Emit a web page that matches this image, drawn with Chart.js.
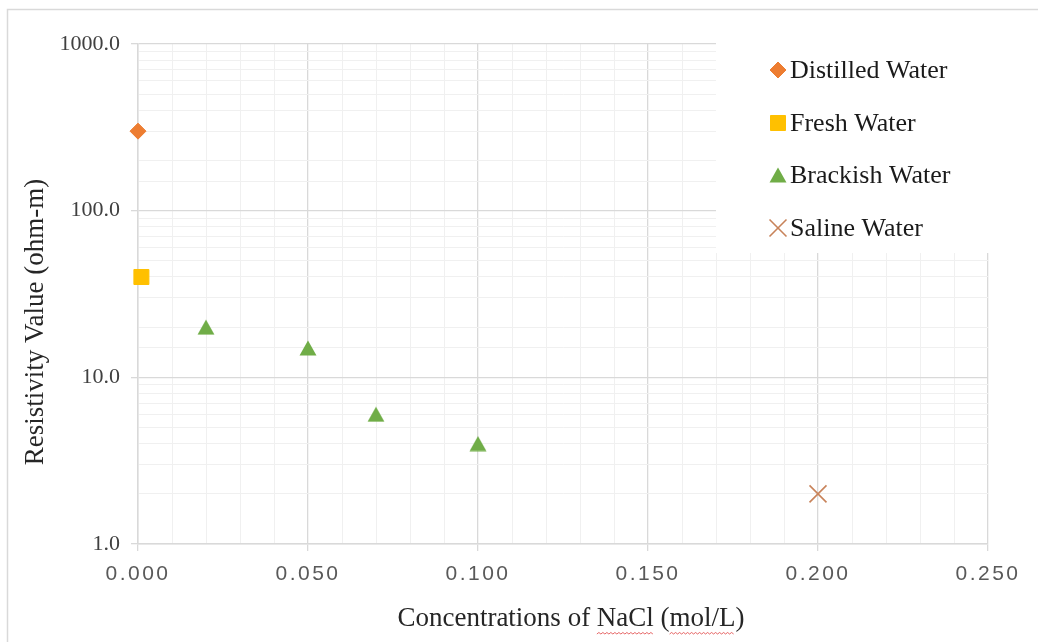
<!DOCTYPE html>
<html>
<head>
<meta charset="utf-8">
<script src="https://cdn.jsdelivr.net/npm/chart.js@4.4.1/dist/chart.umd.min.js"></script>
<style>
  html, body { margin: 0; padding: 0; background: #fff; }
  #wrap { width: 1038px; height: 642px; position: relative; }
</style>
</head>
<body>
<div id="wrap"><canvas id="c" width="1038" height="642"></canvas></div>
<script>
// Resistivity of water samples vs. NaCl concentration
const seriesNames = ['Distilled Water', 'Fresh Water', 'Brackish Water', 'Saline Water'];

const distilledX = [0.000];
const distilledY = [300];

const freshX = [0.001];
const freshY = [40];

const brackishX = [0.020, 0.050, 0.070, 0.100];
const brackishY = [20, 15, 6, 4];

const salineX = [0.200];
const salineY = [2];

const xTickLabels = ['0.000', '0.050', '0.100', '0.150', '0.200', '0.250'];
const yTickLabels = ['1.0', '10.0', '100.0', '1000.0'];

const xAxisTitle = 'Concentrations of NaCl (mol/L)';
const yAxisTitle = 'Resistivity Value (ohm-m)';

const SERIF = '"Liberation Serif", "Times New Roman", serif';
const SANS = '"Liberation Sans", Arial, sans-serif';

const toPoints = (xs, ys) => xs.map((x, i) => ({ x: x, y: ys[i] }));

const isMajorX = v => xTickLabels.includes(Number(v).toFixed(3));
const isMajorY = v => yTickLabels.includes(Number(v).toFixed(1));

// Triangle marker centred on its bounding box
function makeTriangle(w, h, color) {
  const cv = document.createElement('canvas');
  cv.width = w; cv.height = h;
  const g = cv.getContext('2d');
  g.fillStyle = color;
  g.beginPath();
  g.moveTo(w / 2, 0.5);
  g.lineTo(w - 0.5, h - 0.5);
  g.lineTo(0.5, h - 0.5);
  g.closePath();
  g.fill();
  return cv;
}
const triangleMarker = makeTriangle(18, 16, '#70AD47');

const datasets = [
  { label: seriesNames[0], data: toPoints(distilledX, distilledY),
    pointStyle: 'rectRot', radius: 8, backgroundColor: '#ED7D31', borderColor: '#ED7D31', borderWidth: 1 },
  { label: seriesNames[1], data: toPoints(freshX, freshY),
    pointStyle: 'rect', radius: 10.6, backgroundColor: '#FFC000', borderColor: '#FFC000', borderWidth: 1 },
  { label: seriesNames[2], data: toPoints(brackishX, brackishY),
    pointStyle: triangleMarker, radius: 10, backgroundColor: '#70AD47', borderColor: '#70AD47', borderWidth: 1 },
  { label: seriesNames[3], data: toPoints(salineX, salineY),
    pointStyle: 'crossRot', radius: 12, backgroundColor: '#C8835A', borderColor: '#C8835A', borderWidth: 1.6 }
];
datasets.forEach(d => { d.clip = false; });

// Letter-spaced tick labels on the x axis
const spacedXLabels = {
  id: 'spacedXLabels',
  afterLayout(chart) {
    const sc = chart.scales.x;
    if (sc._spaced) return;
    const orig = sc.drawLabels;
    sc.drawLabels = function (area) {
      const ctx = this.ctx;
      ctx.save();
      ctx.letterSpacing = '2.5px';
      orig.call(this, area);
      ctx.restore();
    };
    sc._spaced = true;
  }
};

// Outer frame, axis titles and the overlaid legend box
const decorations = {
  id: 'decorations',
  beforeDraw(chart) {
    const ctx = chart.ctx;
    ctx.save();
    ctx.fillStyle = '#ffffff';
    ctx.fillRect(0, 0, chart.width, chart.height);
    ctx.strokeStyle = '#d9d9d9';
    ctx.lineWidth = 1.5;
    ctx.strokeRect(7.5, 9.5, chart.width + 20, chart.height + 20);
    ctx.restore();
  },
  afterDraw(chart) {
    const ctx = chart.ctx;
    const area = chart.chartArea;
    ctx.save();

    // y-axis title
    ctx.fillStyle = '#262626';
    ctx.font = '27px ' + SERIF;
    ctx.textAlign = 'center';
    ctx.textBaseline = 'middle';
    ctx.save();
    ctx.translate(36, 322);
    ctx.rotate(-Math.PI / 2);
    ctx.fillText(yAxisTitle, 0, 0);
    ctx.restore();

    // x-axis title
    ctx.fillText(xAxisTitle, 571, 619);

    // spell-check style squiggles under "NaCl" and "mol/L"
    const full = ctx.measureText(xAxisTitle).width;
    const left = 571 - full / 2;
    const marks = [['Concentrations of ', 'NaCl'], ['Concentrations of NaCl (', 'mol/L']];
    ctx.strokeStyle = 'rgba(220,40,40,0.7)';
    ctx.lineWidth = 1;
    marks.forEach(([pre, word]) => {
      const x0 = left + ctx.measureText(pre).width;
      const x1 = x0 + ctx.measureText(word).width;
      ctx.beginPath();
      let up = true;
      ctx.moveTo(x0, 634);
      for (let x = x0 + 2; x <= x1; x += 2) {
        ctx.lineTo(x, up ? 632.5 : 634);
        up = !up;
      }
      ctx.stroke();
    });

    // legend panel covering the upper-right gridlines
    const lx = 716, ly = area.top, lw = area.right - 716 + 1, lh = 254 - area.top;
    ctx.fillStyle = '#ffffff';
    ctx.fillRect(lx, ly - 1, lw, lh);

    const rows = [70, 123, 175, 228];
    ctx.font = '26px ' + SERIF;
    ctx.textAlign = 'left';
    ctx.textBaseline = 'middle';
    chart.data.datasets.forEach((ds, i) => {
      const cy = rows[i];
      ctx.fillStyle = ds.backgroundColor;
      ctx.strokeStyle = ds.borderColor;
      ctx.lineWidth = ds.borderWidth;
      Chart.helpers.drawPoint(ctx, {
        pointStyle: ds.pointStyle,
        radius: ds.radius,
        rotation: 0,
        borderWidth: ds.borderWidth
      }, 778, cy);
      ctx.fillStyle = '#1a1a1a';
      ctx.fillText(ds.label, 790, cy + 1);
    });
    ctx.restore();
  }
};

new Chart(document.getElementById('c'), {
  type: 'scatter',
  data: { datasets: datasets },
  plugins: [spacedXLabels, decorations],
  options: {
    responsive: false,
    animation: false,
    devicePixelRatio: 1,
    layout: { padding: { top: 44, right: 50, left: 0, bottom: 0 } },
    plugins: { legend: { display: false }, tooltip: { enabled: false } },
    scales: {
      x: {
        type: 'linear',
        min: 0,
        max: 0.25,
        afterFit(s) { s.height = 98; },
        border: { display: true, color: '#d9d9d9', width: 1.5 },
        grid: {
          color: c => (c.tick && isMajorX(c.tick.value)) ? '#d9d9d9' : '#f0f0f0',
          lineWidth: c => (c.tick && isMajorX(c.tick.value)) ? 1.3 : 1,
          tickColor: c => (c.tick && isMajorX(c.tick.value)) ? '#d9d9d9' : 'rgba(0,0,0,0)',
          tickLength: 7,
          drawTicks: true
        },
        ticks: {
          stepSize: 0.01,
          autoSkip: false,
          maxRotation: 0,
          minRotation: 0,
          padding: 11,
          color: '#595959',
          font: { family: SANS, size: 21 },
          callback: v => {
            const s = Number(v).toFixed(3);
            return xTickLabels.includes(s) ? s : '';
          }
        }
      },
      y: {
        type: 'logarithmic',
        min: 1,
        max: 1000,
        afterFit(s) { s.width = 138; },
        border: { display: true, color: '#d9d9d9', width: 1.5 },
        grid: {
          color: c => (c.tick && isMajorY(c.tick.value)) ? '#d9d9d9' : '#f0f0f0',
          lineWidth: c => (c.tick && isMajorY(c.tick.value)) ? 1.3 : 1,
          tickColor: c => (c.tick && isMajorY(c.tick.value)) ? '#d9d9d9' : 'rgba(0,0,0,0)',
          tickLength: 7,
          drawTicks: true
        },
        ticks: {
          autoSkip: false,
          padding: 11,
          color: '#404040',
          font: { family: SERIF, size: 22 },
          callback: v => {
            const s = Number(v).toFixed(1);
            return yTickLabels.includes(s) ? s : '';
          }
        }
      }
    }
  }
});
</script>
</body>
</html>
